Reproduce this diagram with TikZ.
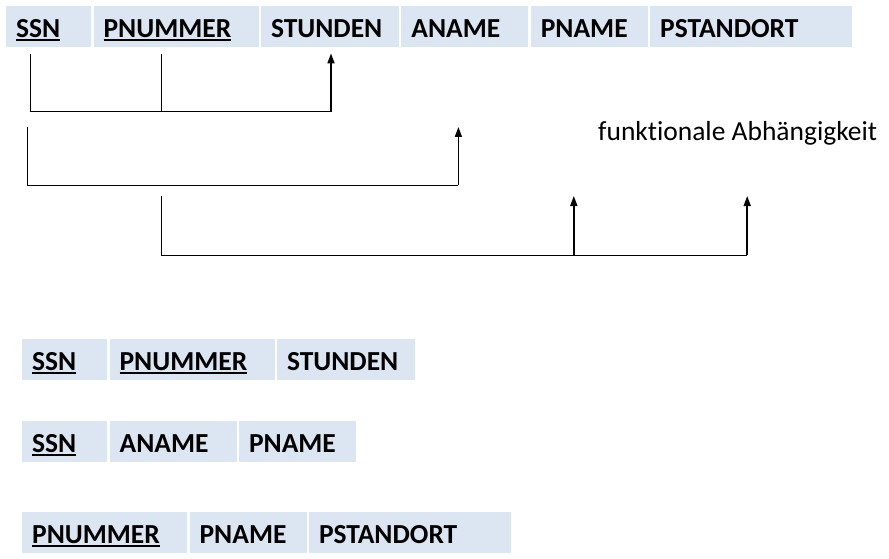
\documentclass[tikz,border=0pt]{standalone}
\usepackage{fontspec}
\setmainfont[Ligatures=NoCommon]{Carlito}
\usepackage{tikz}
\usetikzlibrary{positioning}
\usetikzlibrary{arrows.meta}
\definecolor{cellblue}{RGB}{220,230,242}
\newcommand{\keyattr}[1]{\setbox0\hbox{#1}\rlap{\rule[-3.8pt]{\wd0}{1.8pt}}\box0}
\tikzset{
  attr/.style={fill=cellblue, text width=#1, minimum height=41pt, inner xsep=10pt, inner ysep=0pt,
    text height=24pt, text depth=3pt, align=left, font=\fontsize{27.5}{32}\selectfont\bfseries},
  fdline/.style={line width=1pt},
  fdarrow/.style={line width=1.6pt, -{Triangle[length=10pt,width=7pt]}}
}

\begin{document}
\begin{tikzpicture}[x=1pt,y=-1pt]
            \useasboundingbox (0,0) rectangle (889,559);
            % Ausgangsrelation
            \node[attr=65pt, anchor=north west] (ssn) at (6,6) {\keyattr{SSN}};
            \node[attr=145pt, right=2pt of ssn] (pnummer) {\keyattr{PNUMMER}};
            \node[attr=118pt, right=2pt of pnummer] (stunden) {STUNDEN};
            \node[attr=107pt, right=2pt of stunden] (aname) {ANAME};
            \node[attr=97pt, right=2pt of aname] (pname) {PNAME};
            \node[attr=182pt, right=2pt of pname] (pstandort) {PSTANDORT};
            \node[anchor=base west, inner sep=0pt, font=\fontsize{27.5}{32}\selectfont] (fdlabel) at (598,141) {funktionale Abhängigkeit};
            \coordinate (lvlA) at (0,112);
            \coordinate (topB) at (0,127);
            \coordinate (lvlB) at (0,185);
            \coordinate (topC) at (0,196);
            \coordinate (lvlC) at (0,255);
            % SSN, PNUMMER -> STUNDEN
            \draw[fdline] ([xshift=-18pt,yshift=-7pt]ssn.south) |- ([xshift=1pt]stunden.south |- lvlA);
            \draw[fdline] ([xshift=-15pt,yshift=-7pt]pnummer.south) -- ([xshift=-15pt]pnummer.south |- lvlA);
            \draw[fdarrow] ([xshift=1pt]stunden.south |- lvlA) -- ([xshift=1pt,yshift=-6pt]stunden.south);
            % SSN -> ANAME
            \draw[fdline] ([xshift=-21pt]ssn.south |- topB) |- ([xshift=-6.5pt]aname.south |- lvlB);
            \draw[fdarrow] ([xshift=-6.5pt]aname.south |- lvlB) -- ([xshift=-6.5pt]aname.south |- topB);
            % PNUMMER -> PNAME, PSTANDORT
            \draw[fdline] ([xshift=-15pt]pnummer.south |- topC) |- ([xshift=-4pt]pstandort.south |- lvlC);
            \draw[fdarrow] ([xshift=-15.5pt]pname.south |- lvlC) -- ([xshift=-15.5pt]pname.south |- topC);
            \draw[fdarrow] ([xshift=-4pt]pstandort.south |- lvlC) -- ([xshift=-4pt]pstandort.south |- topC);
            % zerlegte Relationen
            \node[attr=65pt, anchor=north west] (ssnA) at (22,339) {\keyattr{SSN}};
            \node[attr=145pt, right=2pt of ssnA] (pnummerA) {\keyattr{PNUMMER}};
            \node[attr=118pt, right=2pt of pnummerA] (stundenA) {STUNDEN};
            \node[attr=65pt, anchor=north west] (ssnB) at (22,421) {\keyattr{SSN}};
            \node[attr=107pt, right=2pt of ssnB] (anameB) {ANAME};
            \node[attr=97pt, right=2pt of anameB] (pnameB) {PNAME};
            \node[attr=145pt, anchor=north west] (pnummerC) at (22,512) {\keyattr{PNUMMER}};
            \node[attr=97pt, right=2pt of pnummerC] (pnameC) {PNAME};
            \node[attr=182pt, right=2pt of pnameC] (pstandortC) {PSTANDORT};
        \end{tikzpicture}
\end{document}
